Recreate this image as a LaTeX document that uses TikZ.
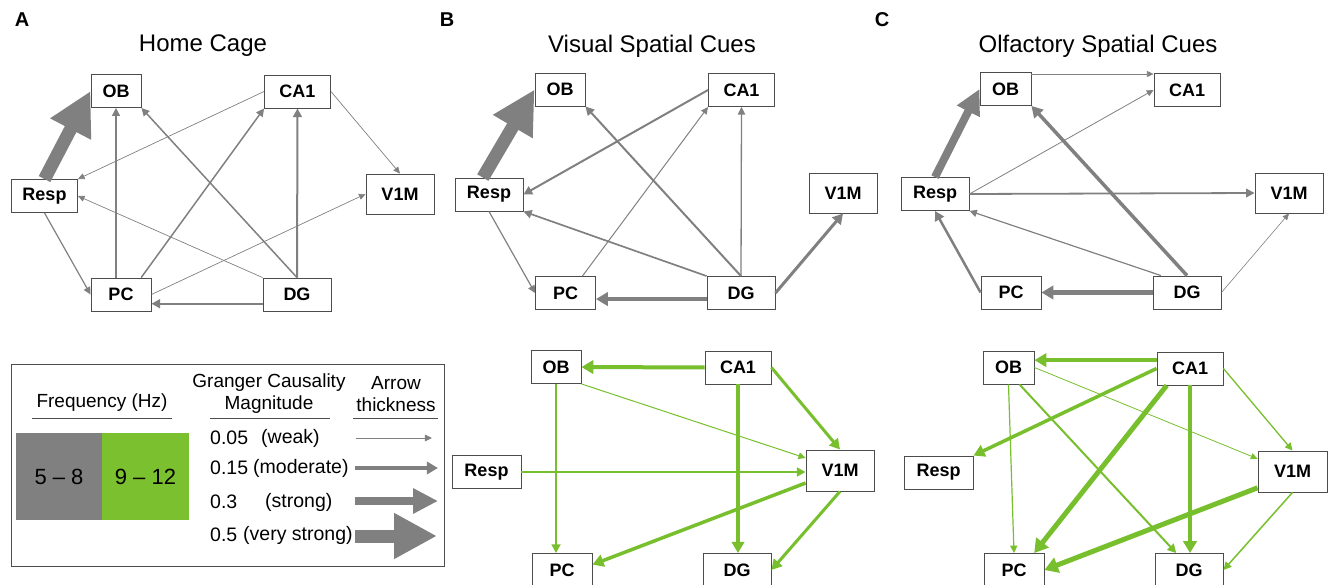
\documentclass[tikz,border=0pt]{standalone}
\usepackage{fontspec}
\setmainfont{Liberation Sans}
\usetikzlibrary{arrows.meta}
\definecolor{slowgray}{HTML}{808080}
\definecolor{fastgreen}{HTML}{77BF2C}
\definecolor{bandgreen}{HTML}{7BC02F}
\newcommand{\fsz}[1]{\fontsize{#1}{#1}\selectfont}

\begin{document}
\begin{tikzpicture}[x=1pt,y=-1pt,
    region/.style={draw=black!70,fill=white,line width=0.9pt,inner sep=0pt,font=\fsz{18}\bfseries},
    link/.style={line width=#1pt,-{Triangle[length=5.5pt 1.6,width=4.5pt 2.2]}},
    slow/.style={link=#1,draw=slowgray},
    fast/.style={link=#1,draw=fastgreen},
    vstrongarrow/.style={line width=13pt,draw=slowgray,-{Triangle[length=43pt,width=43pt]}},
    strongarrow/.style={line width=8pt,draw=slowgray,-{Triangle[length=25pt,width=24pt]}},
    panel/.style={font=\fsz{20}\bfseries},
    title/.style={font=\fsz{24}},
    key/.style={font=\fsz{19},inner sep=0pt},
    row/.style={font=\fsz{19.5},inner sep=0pt,anchor=west},
    rule/.style={draw=black!70,line width=0.9pt}]
  \useasboundingbox (0,0) rectangle (1330,585);

  \node[panel] (labA) at (22,20) {A};
  \node[panel] (labB) at (447,20) {B};
  \node[panel] (labC) at (882,20) {C};
  \node[title] (titA) at (203,46) {Home Cage};
  \node[title] (titB) at (652,46) {Visual Spatial Cues};
  \node[title] (titC) at (1098,46) {Olfactory Spatial Cues};

  \foreach \n/\x/\y/\w/\h in {OB/116/91/50/33, CA1/297.5/91.5/66/33, Resp/44.5/196/66/33,
      V1M/400/194/68/40, PC/121/294.5/60/33, DG/297/294.5/68/33}
    \node[region,minimum width=\w pt,minimum height=\h pt] (a\n) at (\x,\y) {\n};
  \foreach \n/\x/\y/\w/\h in {OB/560/89.5/50/33, CA1/741.5/90/66/33, Resp/489/194.5/68/33,
      V1M/843/193/68/40, PC/565.5/293/60/33, DG/741/293/68/33}
    \node[region,minimum width=\w pt,minimum height=\h pt] (b\n) at (\x,\y) {\n};
  \foreach \n/\x/\y/\w/\h in {OB/1005.5/89/51/33, CA1/1187/90/66/33, Resp/935/194/68/33,
      V1M/1289/193/68/40, PC/1011/292.5/60/33, DG/1187/292.5/68/33}
    \node[region,minimum width=\w pt,minimum height=\h pt] (c\n) at (\x,\y) {\n};
  \foreach \n/\x/\y/\w/\h in {OB/556/367/50/33, CA1/738/367.5/66/33, Resp/486.5/472/69/33,
      V1M/840/470.5/68/41, PC/562/570/60/33, DG/737/570/68/33}
    \node[region,minimum width=\w pt,minimum height=\h pt] (d\n) at (\x,\y) {\n};
  \foreach \n/\x/\y/\w/\h in {OB/1008.5/367.5/51/33, CA1/1190/368.5/66/33, Resp/938.5/472.5/69/33,
      V1M/1292.5/471.5/69/41, PC/1014/570/60/33, DG/1189/570/68/33}
    \node[region,minimum width=\w pt,minimum height=\h pt] (e\n) at (\x,\y) {\n};

  % home cage
  \draw[vstrongarrow] (aResp.north) -- (aOB.west);
  \draw[slow=1.5] (aPC.north -| aOB.south) -- (aOB.south);
  \draw[slow=1.5] (aDG.north) -- (aOB.south east);
  \draw[slow=0.7] (aCA1.west) -- (aResp.north east);
  \draw[slow=1.5] (aPC.40) -- (aCA1.south west);
  \draw[slow=2] (aDG.north) -- (aCA1.south);
  \draw[slow=0.7] (aCA1.east) -- (aV1M.north);
  \draw[slow=0.7] (aDG.north west) -- (aResp.east);
  \draw[slow=1.2] (aResp.south) -- (aPC.west);
  \draw[slow=0.7] (aPC.east) -- (aV1M.west);
  \draw[slow=2] (aDG.195) -- (aPC.east |- aDG.195);

  % visual cues
  \draw[vstrongarrow] (bResp.110) -- (bOB.west);
  \draw[slow=2] (bDG.north) -- (bOB.south east);
  \draw[slow=2] (bCA1.west) -- (bResp.east);
  \draw[slow=1] (bPC.45) -- (bCA1.south west);
  \draw[slow=1.3] (bDG.north) -- (bCA1.south);
  \draw[slow=1.7] (bDG.north west) -- (bResp.south east);
  \draw[slow=1.2] (bResp.south) -- (bPC.west);
  \draw[slow=4] (bDG.190) -- (bPC.east |- bDG.190);
  \draw[slow=3] (bDG.east) -- (bV1M.south);

  % olfactory cues
  \draw[strongarrow] (cResp.north) -- (cOB.west);
  \draw[slow=0.7] (cOB.30) -- (cCA1.west |- cOB.30);
  \draw[slow=0.8] (cResp.east) -- (cCA1.west);
  \draw[slow=1.8] (cResp.east) -- (cV1M.west);
  \draw[slow=3.5] (cDG.north) -- (cOB.south east);
  \draw[slow=1.2] (cDG.147) -- (cResp.south east);
  \draw[slow=2.5] (cPC.west) -- (cResp.south);
  \draw[slow=4] (cDG.west) -- (cPC.east);
  \draw[slow=0.6] (cDG.east) -- (cV1M.south);

  % visual cues, 9-12 Hz
  \draw[fast=4] (dCA1.west) -- (dOB.east);
  \draw[fast=2] (dOB.south) -- (dOB.south |- dPC.north);
  \draw[fast=1] (dOB.south east) -- (dV1M.160);
  \draw[fast=3] (dCA1.east) -- (dV1M.north);
  \draw[fast=3.5] (dCA1.south) -- (dCA1.south |- dDG.north);
  \draw[fast=2] (dResp.east) -- (dV1M.west |- dResp.east);
  \draw[fast=3.5] (dV1M.200) -- (dPC.10);
  \draw[fast=3] (dV1M.south) -- (dDG.east);

  % olfactory cues, 9-12 Hz
  \draw[fast=4] (eCA1.166) -- (eOB.east |- eCA1.166);
  \draw[fast=3.5] (eCA1.west) -- (eResp.north east);
  \draw[fast=1.2] (eOB.south) -- (ePC.north);
  \draw[fast=2] (eOB.303) -- (eDG.127);
  \draw[fast=0.8] (eOB.east) -- (eV1M.160);
  \draw[fast=5] (eCA1.216) -- (ePC.40);
  \draw[fast=4] (eCA1.south) -- (eCA1.south |- eDG.north);
  \draw[fast=1.3] (eCA1.east) -- (eV1M.north);
  \draw[fast=5] (eV1M.205) -- (ePC.east);
  \draw[fast=1.5] (eV1M.south) -- (eDG.east);

  % legend
  \node[draw=black!70,line width=0.9pt,minimum width=433pt,minimum height=202pt] (legend) at (227.5,465) {};
  \node[key] (freq) at (102,403) {Frequency (Hz)};
  \node[key] (gc1) at (269,383) {Granger Causality};
  \node[key] (gc2) at (269,405) {Magnitude};
  \node[key] (th1) at (396,383) {Arrow};
  \node[key] (th2) at (396,405) {thickness};
  \draw[rule] (32,418) -- (172,418);
  \draw[rule] (210,418) -- (330,418);
  \draw[rule] (353,418) -- (438,418);
  \node[fill=slowgray,minimum width=86pt,minimum height=87pt,font=\fsz{22}] (band1) at (59,476.5) {5 – 8};
  \node[fill=bandgreen,minimum width=87pt,minimum height=87pt,font=\fsz{22}] (band2) at (145.5,476.5) {9 – 12};
  \node[row] (v1) at (210,438) {0.05};
  \node[row] (l1) at (261,438) {(weak)};
  \node[row] (v2) at (210,468) {0.15};
  \node[row] (l2) at (253,468) {(moderate)};
  \node[row] (v3) at (210,502) {0.3};
  \node[row] (l3) at (265,502) {(strong)};
  \node[row] (v4) at (210,535) {0.5};
  \node[row] (l4) at (243,535) {(very strong)};
  \coordinate (w1) at (356,438); \coordinate (e1) at (432,438);
  \coordinate (w2) at (355,468); \coordinate (e2) at (438,468);
  \coordinate (w3) at (355,501); \coordinate (e3) at (438,501);
  \coordinate (w4) at (355,536); \coordinate (e4) at (437,536);
  \draw[slow=1] (w1) -- (e1);
  \draw[slow=3.5] (w2) -- (e2);
  \draw[strongarrow] (w3) -- (e3);
  \draw[vstrongarrow] (w4) -- (e4);
\end{tikzpicture}
\end{document}
